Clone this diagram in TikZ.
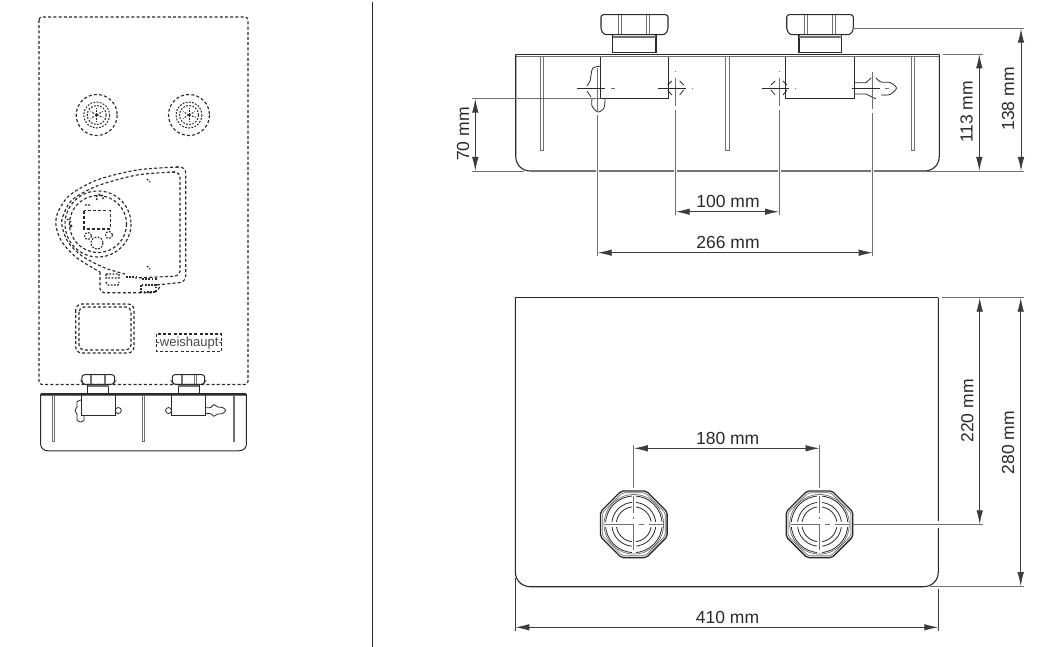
\documentclass[tikz,border=0pt]{standalone}
\usepackage{fontspec}
\setmainfont{Liberation Sans}
\usetikzlibrary{arrows.meta}
\definecolor{ink}{HTML}{2A2A2A}
\definecolor{dimc}{HTML}{3C3C3C}
\definecolor{extc}{HTML}{707070}
\tikzset{
 body/.style={draw=ink,line width=1.1pt},
 thin/.style={draw=ink,line width=.8pt},
 hid/.style={draw=ink,line width=1.15pt,dash pattern=on 3pt off 2.2pt},
 hidf/.style={draw=ink,line width=1pt,dash pattern=on 1.8pt off 1.4pt},
 extl/.style={draw=extc,line width=.9pt},
 diml/.style={draw=dimc,line width=.9pt,{Latex[length=14pt,width=6.5pt]}-{Latex[length=14pt,width=6.5pt]}},
 lab/.style={font=\fontsize{17.5}{18}\selectfont,text=ink,inner sep=0pt},
 rib/.style={draw=extc,line width=.8pt},
}
% side view of the base, in the coordinates of the large view
\newcommand{\basecase}{%
 \draw[body,line width=1.5pt] (515.7,54.3) -- (939.3,54.3);
 \draw[extc,line width=.7pt] (516,56.8) -- (939,56.8);
 \draw[body] (515.7,54.3) -- (515.7,156) .. controls (515.7,165) and (522,171) .. (530.7,171) -- (924.3,171) .. controls (933,171) and (939.3,165) .. (939.3,156) -- (939.3,54.3);
 \foreach \xx in {541.7,727.3,913}{\draw[rib] (\xx-1.6,57) -- (\xx-1.6,150.7) -- (\xx+1.6,150.7) -- (\xx+1.6,57);}
 \foreach \aa/\ba/\ca/\da/\ea/\fa in {601/668/620/647.7/612.7/656,786.7/853.3/806/834/799/841.7}{
  \draw[body,rounded corners=2.5pt] (\aa,14.7) -- (\ba,14.7) -- (\ba,30) -- (\ba-3,34.7) -- (\aa+3,34.7) -- (\aa,30) -- cycle;
  \draw[rib] (\ca-1.2,15) -- (\ca-1.2,34) (\ca+1.2,15) -- (\ca+1.2,34) (\da-1.2,15) -- (\da-1.2,34) (\da+1.2,15) -- (\da+1.2,34);
  \draw[body] (\ea,35) -- (\ea,53) (\fa,35) -- (\fa,53) (\ea,52.5) -- (\fa,52.5);
  \draw[extc,line width=2pt] (\ea,37) -- (\fa,37);
 }
 \draw[thin] (600.7,57) -- (600.7,98.7) -- (668.7,98.7) -- (668.7,57);
 \draw[thin] (785.7,57) -- (785.7,98.7) -- (854.7,98.7) -- (854.7,57);
}
\begin{document}
\begin{tikzpicture}[x=1pt,y=-1pt]
\useasboundingbox (0,0) rectangle (1046,647);
\fill[white] (0,0) rectangle (1046,647);

% ---------- left: front view (hidden lines) ----------
\draw[hid,rounded corners=3pt] (39,17) rectangle (248,384.5);
\foreach \cx in {96.7,189}{
 \draw[hid] (\cx,115) circle[radius=20.5];
 \draw[hidf] (\cx,115) circle[radius=13];
 \draw[hidf] (\cx,115) circle[radius=9.5];
 \foreach \ang in {20,90,150,210,270,330}{\draw[hidf] (\cx,115) -- ++(\ang:7);}
}
% display blob
\draw[hid] plot[smooth] coordinates {(178,167) (137,170) (97,180) (70,195) (58,212) (56,226) (62,242) (77,258) (100,272)};
\draw[hid,rounded corners=6pt] (176,167) -- (185.7,167) -- (185.7,282) -- (156,285);
\draw[hid] plot[smooth] coordinates {(175,172) (137,175) (97,186) (72,200) (63,216) (62,226) (68,242) (82,256) (105,268) (125,274)};
\draw[hid,rounded corners=5pt] (172,172) -- (180,172) -- (180,276) -- (135,278);
\draw[hid] (98,224) circle[radius=33];
\draw[hid] (98,224) circle[radius=28.5];
\draw[hid] (84,210.7) rectangle (110.7,229);
\draw[hid,rounded corners=4pt] (100,272) -- (100,292.7) -- (156.7,292.7) -- (160,286);
\draw[hidf,line width=1.4pt] (85,205) -- (90,205) (97,200) arc[start angle=140,end angle=400,radius=3.5];
\draw[hidf,line width=1.1pt] (88,236) circle[radius=3.5] (97,243) circle[radius=6] (109,235) circle[radius=3.5];
\fill[ink] (71,226) circle[radius=1.6];
\draw[hidf,line width=1.2pt] (67,219) -- (71,222);
\draw[hidf,line width=1.2pt] (147,179) -- (150,182) (147,266) -- (150,269);
\draw[hidf,line width=1.3pt] (106,274) rectangle (119,278) (106,282) -- (108,285) -- (118,285) -- (119,282);
\draw[hidf,line width=1.3pt] (126,277) -- (137,277) (142,279) -- (157,279);
\draw[hidf,line width=1.3pt] (141,285) rectangle (156,292);
% lower boxes
\draw[hid,rounded corners=6pt] (75.7,304) rectangle (134,353);
\draw[hid,rounded corners=5pt] (79,307) rectangle (131,350);
\draw[hid] (156.7,334) rectangle (221.7,351.7);
\node[inner sep=0pt,text=ink!85,font=\fontsize{13}{13}\selectfont] (logo) at (189.2,343) {-weishaupt-};

% small side view
\begin{scope}[shift={(40.5,394)},x=.4863pt,y=-.4863pt,shift={(-515.7,-54.3)},body/.append style={line width=1pt},rib/.append style={line width=.7pt}]
 \basecase
 \draw[thin] plot[smooth] coordinates {(600.7,66) (591,70) (591,80) (587,88) (591,97) (591,108) (598,112) (605,108) (605,98)};
 \draw[thin] plot[smooth] coordinates {(854.7,82.7) (866,82) (872,76) (880,81) (890,82) (896.5,88) (890,94.6) (880,95.5) (872,100) (866,95) (854.7,94)};
 \draw[thin] (675.7,88.3) circle[radius=6.2];
 \draw[thin] (779,88.3) circle[radius=6.2];
\end{scope}

% divider
\draw[ink,line width=1.2pt] (372.7,2) -- (372.7,647);

% ---------- right top: side view ----------
\basecase
\draw[thin] plot[smooth] coordinates {(600.7,66) (593,68) (591,75) (590,81) (587,86)};
\draw[thin] plot[smooth] coordinates {(587,91) (591,97)};
\draw[thin] plot[smooth] coordinates {(592,99) (592,106) (598,112) (604,108) (605,99)};
\draw[thin] (854.7,82.7) -- (866,82.7) -- (871,78);
\draw[thin] plot[smooth] coordinates {(876,78) (881,82) (890,82.5) (896.5,88) (890,94.5) (881,95)};
\draw[thin] (876,99) -- (866,94) -- (854.7,94);
% centre crosses
\foreach \cx/\xa/\xb/\ya/\yb in {675.7/658/686/78/106,779/761.7/789/78/106}{
 \draw[thin] (\cx-8,90) -- (\cx-4,95) (\cx+8,90) -- (\cx+4,95) (\cx+8,85) -- (\cx+4,81) (\cx-8,85) -- (\cx-4,81);
 \draw[extc,line width=1pt] (\cx,\ya) -- (\cx,\yb) (\cx,71) -- (\cx,72);
 \draw[ink,line width=.9pt] (\xa,88.3) -- (\xb,88.3);
 \draw[extc,line width=.8pt] (\xb+6,88.3) -- (\xb+7,88.3);
}
\draw[extc,line width=1pt] (597.7,68) -- (597.7,112);
\draw[ink,line width=.9pt] (577,88.3) -- (605,88.3);
\draw[extc,line width=.9pt] (611,88.3) -- (615,88.3);
\draw[extc,line width=1pt] (872.7,72) -- (872.7,109);
\draw[ink,line width=.9pt] (851.7,88.3) -- (880,88.3);
\draw[extc,line width=.9pt] (885,88.3) -- (889,88.3);

% coordinates of the dimensions
\coordinate (a70t) at (475.3,98.7); \coordinate (a70b) at (475.3,171);
\coordinate (e70t) at (471.7,98.7); \coordinate (e70te) at (601,98.7);
\coordinate (e70b) at (471.7,171); \coordinate (e70be) at (524,171);
\draw[extl] (e70t) -- (e70te);
\draw[extl] (e70b) -- (e70be);
\draw[diml] (a70t) -- (a70b);
\node[lab,rotate=90] (l70) at (463,134) {70 mm};

\coordinate (d100a) at (675.7,211.7); \coordinate (d100b) at (779,211.7);
\coordinate (d266a) at (597.7,252.7); \coordinate (d266b) at (872.7,252.7);
\coordinate (x1) at (597.7,115); \coordinate (x2) at (675.7,110); \coordinate (x3) at (779,110); \coordinate (x4) at (872.7,113);
\coordinate (x1e) at (597.7,256); \coordinate (x2e) at (675.7,215); \coordinate (x3e) at (779,215); \coordinate (x4e) at (872.7,256);
\draw[white,line width=3pt] (597.7,168) -- (597.7,174) (675.7,168) -- (675.7,174) (779,168) -- (779,174) (872.7,168) -- (872.7,174);
\draw[extl] (x1) -- (x1e);
\draw[extl] (x2) -- (x2e);
\draw[extl] (x3) -- (x3e);
\draw[extl] (x4) -- (x4e);
\draw[diml] (d100a) -- (d100b);
\draw[diml] (d266a) -- (d266b);
\node[lab] (l100) at (728,201) {100 mm};
\node[lab] (l266) at (728,242) {266 mm};

\coordinate (e113a) at (942.7,54.3); \coordinate (e113b) at (983,54.3);
\coordinate (e138a) at (853,28.7); \coordinate (e138b) at (1024,28.7);
\coordinate (ebota) at (924,171); \coordinate (ebotb) at (1024,171);
\draw[extl] (e113a) -- (e113b);
\draw[extl] (e138a) -- (e138b);
\draw[extl] (ebota) -- (ebotb);
\coordinate (a113t) at (979.3,54.3); \coordinate (a113b) at (979.3,171);
\coordinate (a138t) at (1021,28.7); \coordinate (a138b) at (1021,171);
\draw[diml] (a113t) -- (a113b);
\draw[diml] (a138t) -- (a138b);
\node[lab,rotate=90] (l113) at (966.7,112) {113 mm};
\node[lab,rotate=90] (l138) at (1008,99) {138 mm};

% ---------- right bottom: top view ----------
\draw[body,line width=1.3pt] (515.3,297.7) -- (938.3,297.7);
\draw[body] (515.3,297.7) -- (515.3,571.7) .. controls (515.3,580.5) and (522,586.7) .. (530.3,586.7) -- (923.3,586.7) .. controls (932,586.7) and (938.3,580.5) .. (938.3,571.7) -- (938.3,297.7);
% fittings
\foreach \cx in {633.8,819.5}{
 \begin{scope}[shift={(\cx,524.3)}]
  \draw[ink,line width=1.3pt,rounded corners=2pt] (-12.5,-33.3) -- (12.5,-33.3) -- (33.3,-12.5) -- (33.3,12.5) -- (12.5,33.3) -- (-12.5,33.3) -- (-33.3,12.5) -- (-33.3,-12.5) -- cycle;
  \draw[extc,line width=.7pt,rounded corners=2pt] (-11.5,-31.5) -- (11.5,-31.5) -- (31.5,-11.5) -- (31.5,11.5) -- (11.5,31.5) -- (-11.5,31.5) -- (-31.5,11.5) -- (-31.5,-11.5) -- cycle;
  \draw[extc,line width=.7pt] (0,0) circle[radius=29.8];
  \draw[ink,line width=.8pt] (0,0) circle[radius=28.3];
  \draw[ink,line width=.8pt] (0,0) circle[radius=22];
  \draw[ink,line width=.8pt] (0,0) circle[radius=17.5];
  \fill[white] (-2.2,-29) rectangle (2.2,29);
  \fill[white] (-29,-2.2) rectangle (29,2.2);
  \draw[extc,line width=1pt] (0,-28) -- (0,-11) (0,-7) -- (0,-5) (0,0) -- (0,26);
  \draw[extc,line width=1pt] (-29,0) -- (-1,0) (5,0) -- (10,0) (15,0) -- (29,0);
 \end{scope}
}
% dimensions
\coordinate (e180a) at (633.8,445); \coordinate (e180ae) at (633.8,488);
\coordinate (e180b) at (819.5,445); \coordinate (e180be) at (819.5,488);
\draw[extl] (e180a) -- (e180ae);
\draw[extl] (e180b) -- (e180be);
\coordinate (d180a) at (633.8,448.3); \coordinate (d180b) at (819.5,448.3);
\draw[diml] (d180a) -- (d180b);
\node[lab] (l180) at (727.7,438) {180 mm};

\coordinate (e220a) at (852.5,524.3); \coordinate (e220b) at (983,524.3);
\draw[white,line width=3pt] (938.3,521) -- (938.3,527.5);
\draw[extl] (e220a) -- (e220b);
\coordinate (etopa) at (941.7,297.7); \coordinate (etopb) at (1024,297.7);
\draw[extl] (etopa) -- (etopb);
\coordinate (ebba) at (930,586.2); \coordinate (ebbb) at (1024,586.2);
\draw[extl] (ebba) -- (ebbb);
\coordinate (d220a) at (979.7,297.7); \coordinate (d220b) at (979.7,524.3);
\coordinate (d280a) at (1020.7,297.7); \coordinate (d280b) at (1020.7,586.2);
\draw[diml] (d220a) -- (d220b);
\draw[diml] (d280a) -- (d280b);
\node[lab,rotate=90] (l220) at (967.3,411) {220 mm};
\node[lab,rotate=90] (l280) at (1008,442.5) {280 mm};

\coordinate (e410a) at (515.3,578); \coordinate (e410ae) at (515.3,631);
\coordinate (e410b) at (938.3,589); \coordinate (e410be) at (938.3,631);
\draw[dimc,line width=.9pt] (e410a) -- (e410ae);
\draw[dimc,line width=.9pt] (e410b) -- (e410be);
\coordinate (d410a) at (515.3,627.3); \coordinate (d410b) at (938.3,627.3);
\draw[diml] (d410a) -- (d410b);
\node[lab] (l410) at (727.5,617) {410 mm};
\end{tikzpicture}
\end{document}
